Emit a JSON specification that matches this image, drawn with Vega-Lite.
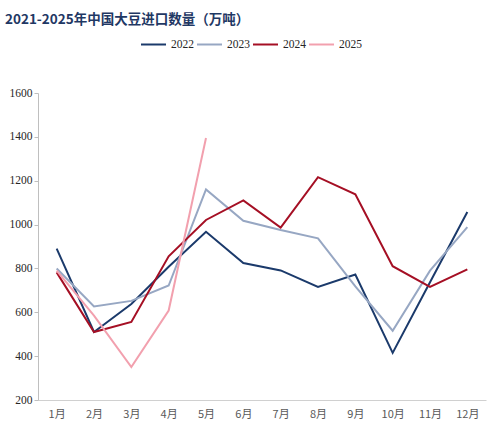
{
  "$schema": "https://vega.github.io/schema/vega-lite/v6.json",
  "width": 448,
  "height": 307,
  "autosize": "none",
  "padding": {"left": 38, "top": 93, "right": 15, "bottom": 41},
  "background": "white",
  "title": {
    "text": "2021-2025年中国大豆进口数量（万吨）",
    "anchor": "start",
    "frame": "group",
    "dx": -33,
    "offset": 5,
    "font": "Noto Sans CJK SC",
    "fontSize": 13.5,
    "fontWeight": "bold",
    "color": "#1f3864"
  },
  "data": {
    "values": [
      {"month": "1月", "year": "2022", "value": 890},
      {"month": "2月", "year": "2022", "value": 510},
      {"month": "3月", "year": "2022", "value": 638},
      {"month": "4月", "year": "2022", "value": 808},
      {"month": "5月", "year": "2022", "value": 967},
      {"month": "6月", "year": "2022", "value": 825},
      {"month": "7月", "year": "2022", "value": 791},
      {"month": "8月", "year": "2022", "value": 716},
      {"month": "9月", "year": "2022", "value": 772},
      {"month": "10月", "year": "2022", "value": 415},
      {"month": "11月", "year": "2022", "value": 737},
      {"month": "12月", "year": "2022", "value": 1057},
      {"month": "1月", "year": "2023", "value": 800},
      {"month": "2月", "year": "2023", "value": 627},
      {"month": "3月", "year": "2023", "value": 652},
      {"month": "4月", "year": "2023", "value": 722},
      {"month": "5月", "year": "2023", "value": 1160},
      {"month": "6月", "year": "2023", "value": 1017},
      {"month": "7月", "year": "2023", "value": 975},
      {"month": "8月", "year": "2023", "value": 937},
      {"month": "9月", "year": "2023", "value": 718},
      {"month": "10月", "year": "2023", "value": 516},
      {"month": "11月", "year": "2023", "value": 790},
      {"month": "12月", "year": "2023", "value": 988},
      {"month": "1月", "year": "2024", "value": 782},
      {"month": "2月", "year": "2024", "value": 510},
      {"month": "3月", "year": "2024", "value": 556},
      {"month": "4月", "year": "2024", "value": 855},
      {"month": "5月", "year": "2024", "value": 1021},
      {"month": "6月", "year": "2024", "value": 1110},
      {"month": "7月", "year": "2024", "value": 986},
      {"month": "8月", "year": "2024", "value": 1216},
      {"month": "9月", "year": "2024", "value": 1138},
      {"month": "10月", "year": "2024", "value": 810},
      {"month": "11月", "year": "2024", "value": 716},
      {"month": "12月", "year": "2024", "value": 796},
      {"month": "1月", "year": "2025", "value": 790},
      {"month": "2月", "year": "2025", "value": 585},
      {"month": "3月", "year": "2025", "value": 350},
      {"month": "4月", "year": "2025", "value": 608},
      {"month": "5月", "year": "2025", "value": 1395}
    ]
  },
  "mark": {"type": "line", "strokeJoin": "miter"},
  "encoding": {
    "x": {
      "field": "month",
      "type": "ordinal",
      "sort": ["1月", "2月", "3月", "4月", "5月", "6月", "7月", "8月", "9月", "10月", "11月", "12月"],
      "scale": {"type": "point", "padding": 0.5},
      "axis": {
        "title": null,
        "labelAngle": 0,
        "ticks": false,
        "domainColor": "#d0d0d0",
        "labelFont": "Noto Sans CJK SC",
        "labelFontSize": 11,
        "labelColor": "#595959",
        "labelPadding": 8
      }
    },
    "y": {
      "field": "value",
      "type": "quantitative",
      "scale": {"domain": [200, 1600], "nice": false},
      "axis": {
        "title": null,
        "values": [200, 400, 600, 800, 1000, 1200, 1400, 1600],
        "format": "d",
        "grid": false,
        "domainColor": "#bfbfbf",
        "tickColor": "#bfbfbf",
        "tickSize": 4,
        "labelFont": "Liberation Serif",
        "labelFontSize": 11.5,
        "labelColor": "#262626",
        "labelPadding": 2
      }
    },
    "color": {
      "field": "year",
      "type": "nominal",
      "scale": {
        "domain": ["2022", "2023", "2024", "2025"],
        "range": ["#1b3a6b", "#97a7c3", "#a50f24", "#f2a0ae"]
      },
      "legend": {
        "title": null,
        "orient": "none",
        "direction": "horizontal",
        "legendX": 102,
        "legendY": -62,
        "symbolType": "stroke",
        "symbolSize": 625,
        "symbolStrokeWidth": 2.5,
        "labelFont": "Liberation Serif",
        "labelFontSize": 11.5,
        "labelColor": "#262626",
        "labelOffset": 4,
        "columnPadding": -1
      }
    },
    "strokeWidth": {
      "field": "year",
      "type": "nominal",
      "scale": {"domain": ["2022", "2023", "2024", "2025"], "range": [2, 2, 2, 3]},
      "legend": null
    }
  },
  "config": {"view": {"stroke": null}}
}
